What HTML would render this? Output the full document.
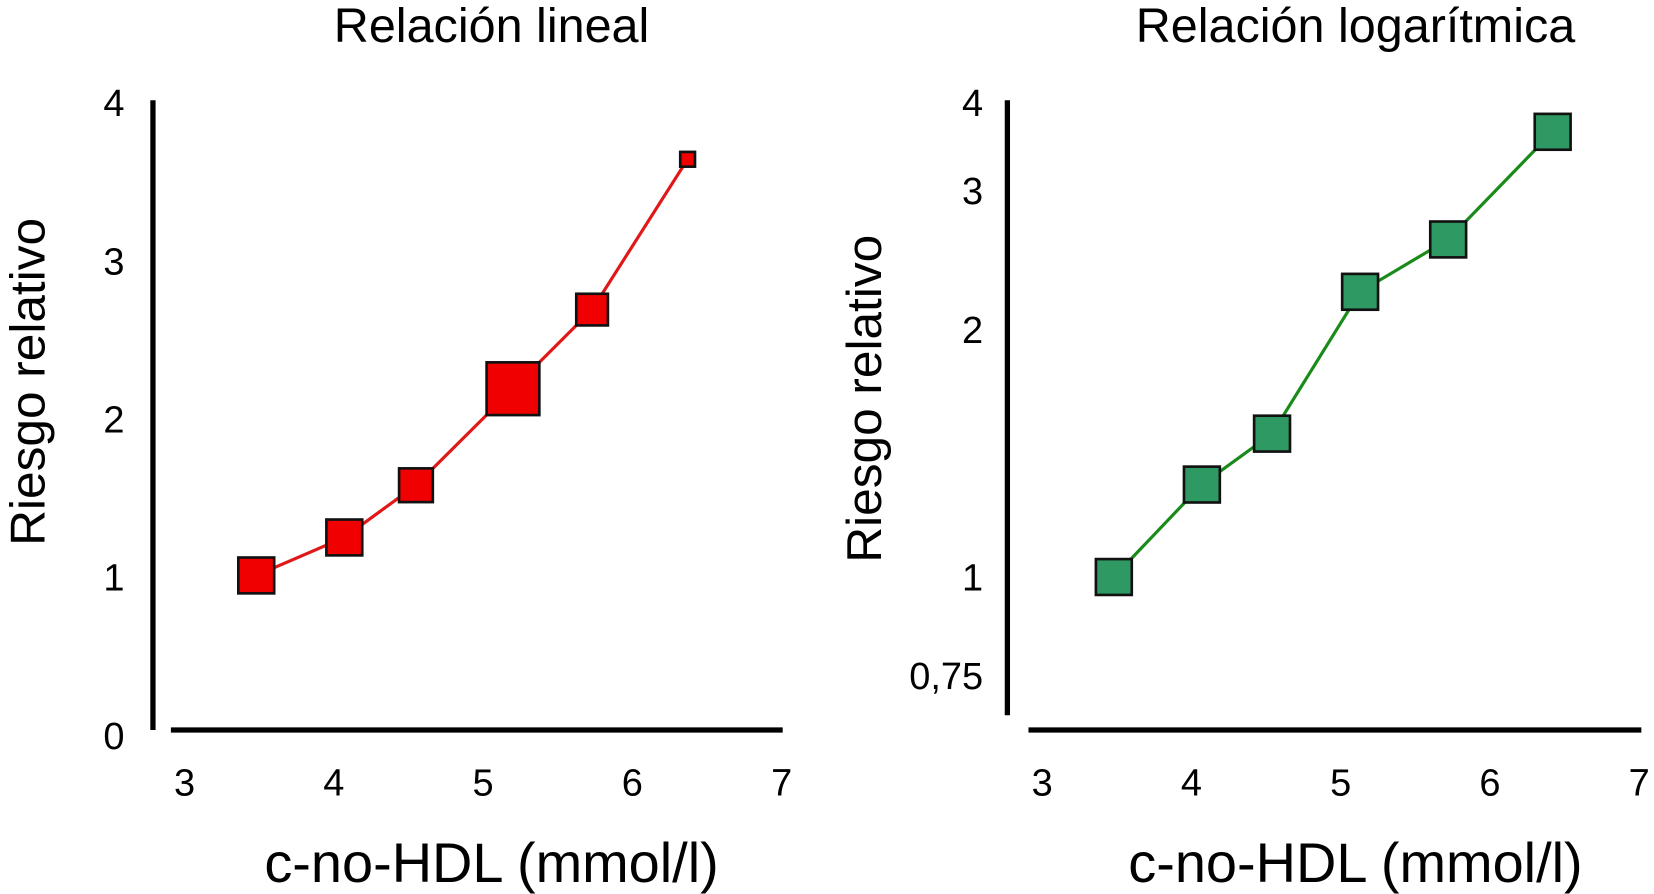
<!DOCTYPE html>
<html><head><meta charset="utf-8"><style>
html,body{margin:0;padding:0;background:#fff;}
svg{display:block;font-family:"Liberation Sans",sans-serif;}
</style></head><body>
<svg id="chart" width="1654" height="894" viewBox="0 0 1568 847.5" preserveAspectRatio="none" xmlns="http://www.w3.org/2000/svg"></svg>
<script>
const xTicks=[3,4,5,6,7];
const linYTicks=[0,1,2,3,4];
const logYTicks=[0.75,1,2,3,4];
const logYLabels=["0,75","1","2","3","4"];
const linX=[3.48,4.07,4.55,5.2,5.73,6.37];
const linY=[1.01,1.25,1.58,2.19,2.69,3.64];
const linW=[34,34,32,50,30,14];
const logX=[3.48,4.07,4.54,5.13,5.72,6.42];
const logY=[1.0,1.31,1.52,2.3,2.68,3.67];
const logW=[34,34,34,34,34,34];

const NS="http://www.w3.org/2000/svg";
const svg=document.getElementById('chart');
function mk(t,a,txt){const e=document.createElementNS(NS,t);for(const k in a)e.setAttribute(k,a[k]);if(txt!==undefined)e.textContent=txt;svg.appendChild(e);return e;}

function panel(cfg){
  const xs=v=>cfg.x0+141.5*(v-3);
  const ys=cfg.ys;
  let e=mk('text',{x:cfg.titleX,y:40,'font-size':46,'text-anchor':'middle'},cfg.title);
  
  
  e=mk('line',{x1:cfg.yAxisX,y1:95,x2:cfg.yAxisX,y2:cfg.yAxisEnd,stroke:'#000','stroke-width':5});
  
  
  e=mk('line',{x1:cfg.xAxisStart,y1:692,x2:cfg.xAxisEnd,y2:692,stroke:'#000','stroke-width':5});
  
  
  xTicks.forEach(v=>{
    const t=mk('text',{x:xs(v),y:754,'font-size':36,'text-anchor':'middle'},String(v));
    
    
  });
  cfg.yTicks.forEach((v,i)=>{
    const t=mk('text',{x:cfg.yLabelX,y:ys(v)+13-cfg.lift(v),'font-size':36,'text-anchor':'end'},cfg.yLabels[i]);
    
    
  });
  e=mk('text',{x:cfg.xTitleX,y:836,'font-size':53,'text-anchor':'middle'},'c-no-HDL (mmol/l)');
  
  
  e=mk('text',{x:0,y:0,'font-size':47,'text-anchor':'middle',transform:`translate(${cfg.yTitleX},${cfg.yTitleY}) rotate(-90)`},'Riesgo relativo');
  
  
  const pts=cfg.px.map((v,i)=>xs(v)+','+ys(cfg.py[i])).join(' ');
  e=mk('polyline',{points:pts,fill:'none',stroke:cfg.line,'stroke-width':3});
  
  
  cfg.px.forEach((v,i)=>{
    const w=cfg.w[i];
    const r=mk('rect',{x:xs(v)-w/2,y:ys(cfg.py[i])-w/2,width:w,height:w,fill:cfg.fill,stroke:'#111','stroke-width':2.5});
    
    
  });
}
panel({id:'linear',title:'Relación lineal',titleX:466,x0:175,ys:v=>697-150*v,yAxisX:145,yAxisEnd:692,xAxisStart:162,xAxisEnd:742,
  yTicks:linYTicks,yLabels:linYTicks.map(String),yLabelX:118,xTitleX:466,yTitleX:42,yTitleY:362,lift:v=>0,
  px:linX,py:linY,w:linW,line:'#e01818',fill:'#f00000'});
panel({id:'logarithmic',title:'Relación logarítmica',titleX:1285,x0:988,ys:v=>547-225*Math.log2(v),yAxisX:955,yAxisEnd:678,xAxisStart:975,xAxisEnd:1556,
  yTicks:logYTicks,yLabels:logYLabels,yLabelX:932,xTitleX:1285,yTitleX:835,yTitleY:378,lift:v=>(v===2||v===3)?10:0,
  px:logX,py:logY,w:logW,line:'#1a8a1a',fill:'#2e9962'});
</script>
</body></html>
